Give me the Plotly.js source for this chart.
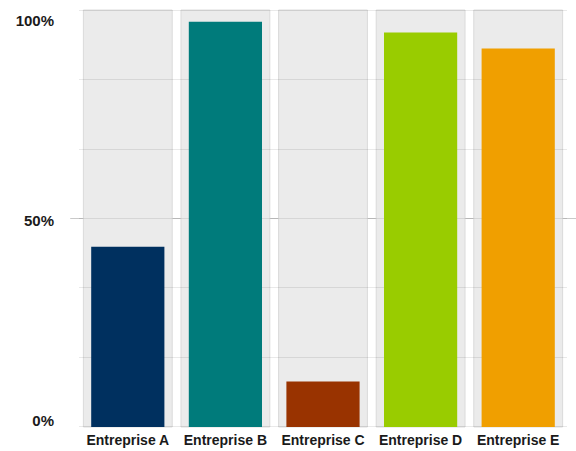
<!DOCTYPE html>
<html>
<head>
<meta charset="utf-8">
<script src="https://cdn.plot.ly/plotly-3.0.1.min.js"></script>
<style>
  html, body { margin: 0; padding: 0; background: #ffffff; }
  #chart { width: 576px; height: 451px; }
</style>
</head>
<body>
<div id="chart"></div>
<script>
// ---- data ----
const categories = ["Entreprise A", "Entreprise B", "Entreprise C", "Entreprise D", "Entreprise E"];
const values = [43.2, 97.2, 10.9, 94.6, 90.8];
const barColors = ["#00305f", "#007b7b", "#993300", "#99cc00", "#f09f00"];
const yTickValues = [0, 50, 100];
const yTickLabels = ["0%", "50%", "100%"];
const panelMax = 100;

// ---- background panels (one per category, drawn under the gridlines) ----
const panelHalf = 0.455;
const shapes = categories.map((c, i) => ({
  type: "rect", layer: "below",
  xref: "x", yref: "y",
  x0: i - panelHalf, x1: i + panelHalf, y0: 0, y1: panelMax,
  fillcolor: "#ebebeb",
  line: { color: "#dadada", width: 1 }
}));
// 50% reference line running across the whole chart
shapes.push({
  type: "line", layer: "between",
  xref: "paper", yref: "y",
  x0: -0.018, x1: 1.02, y0: 50, y1: 50,
  line: { color: "#c9c9c9", width: 1 }
});

const traces = [
  {
    type: "bar",
    x: categories,
    y: values,
    width: 0.75,
    marker: { color: barColors, line: { width: 0 } },
    hoverinfo: "x+y"
  },
  {
    type: "scatter",
    x: categories,
    y: yTickValues.map(() => null),
    yaxis: "y2",
    mode: "markers",
    marker: { opacity: 0 },
    hoverinfo: "skip",
    showlegend: false
  }
];

const layout = {
  width: 576, height: 451,
  margin: { l: 79, r: 9, t: 9, b: 23, pad: 0 },
  paper_bgcolor: "#ffffff",
  plot_bgcolor: "#ffffff",
  showlegend: false,
  bargap: 0.25,
  font: { family: "Liberation Sans, Arial, sans-serif", color: "#1a1a1a" },
  xaxis: {
    type: "category",
    range: [-0.5, 4.5],
    showgrid: false, zeroline: false, showline: false,
    ticks: "",
    ticklabelstandoff: 2,
    tickfont: { size: 14, family: "Liberation Sans, Arial, sans-serif", weight: "bold", color: "#1a1a1a" },
    fixedrange: true
  },
  yaxis: {
    range: [-0.25, 100.25],
    tickvals: [0, 100/6, 200/6, 50, 400/6, 500/6, 100],
    showticklabels: false,
    showgrid: true,
    gridcolor: "rgba(0,0,0,0.085)",
    gridwidth: 1,
    zeroline: false, showline: false, ticks: "",
    fixedrange: true
  },
  yaxis2: {
    overlaying: "y", side: "left",
    range: [-1.75, 102.87],
    tickvals: yTickValues,
    ticktext: yTickLabels,
    showgrid: false, zeroline: false, showline: false, ticks: "",
    ticklabelstandoff: 24,
    tickfont: { size: 15, family: "Liberation Sans, Arial, sans-serif", weight: "bold", color: "#1a1a1a" },
    fixedrange: true
  },
  shapes: shapes
};

Plotly.newPlot("chart", traces, layout, { displayModeBar: false, staticPlot: true });
</script>
</body>
</html>
